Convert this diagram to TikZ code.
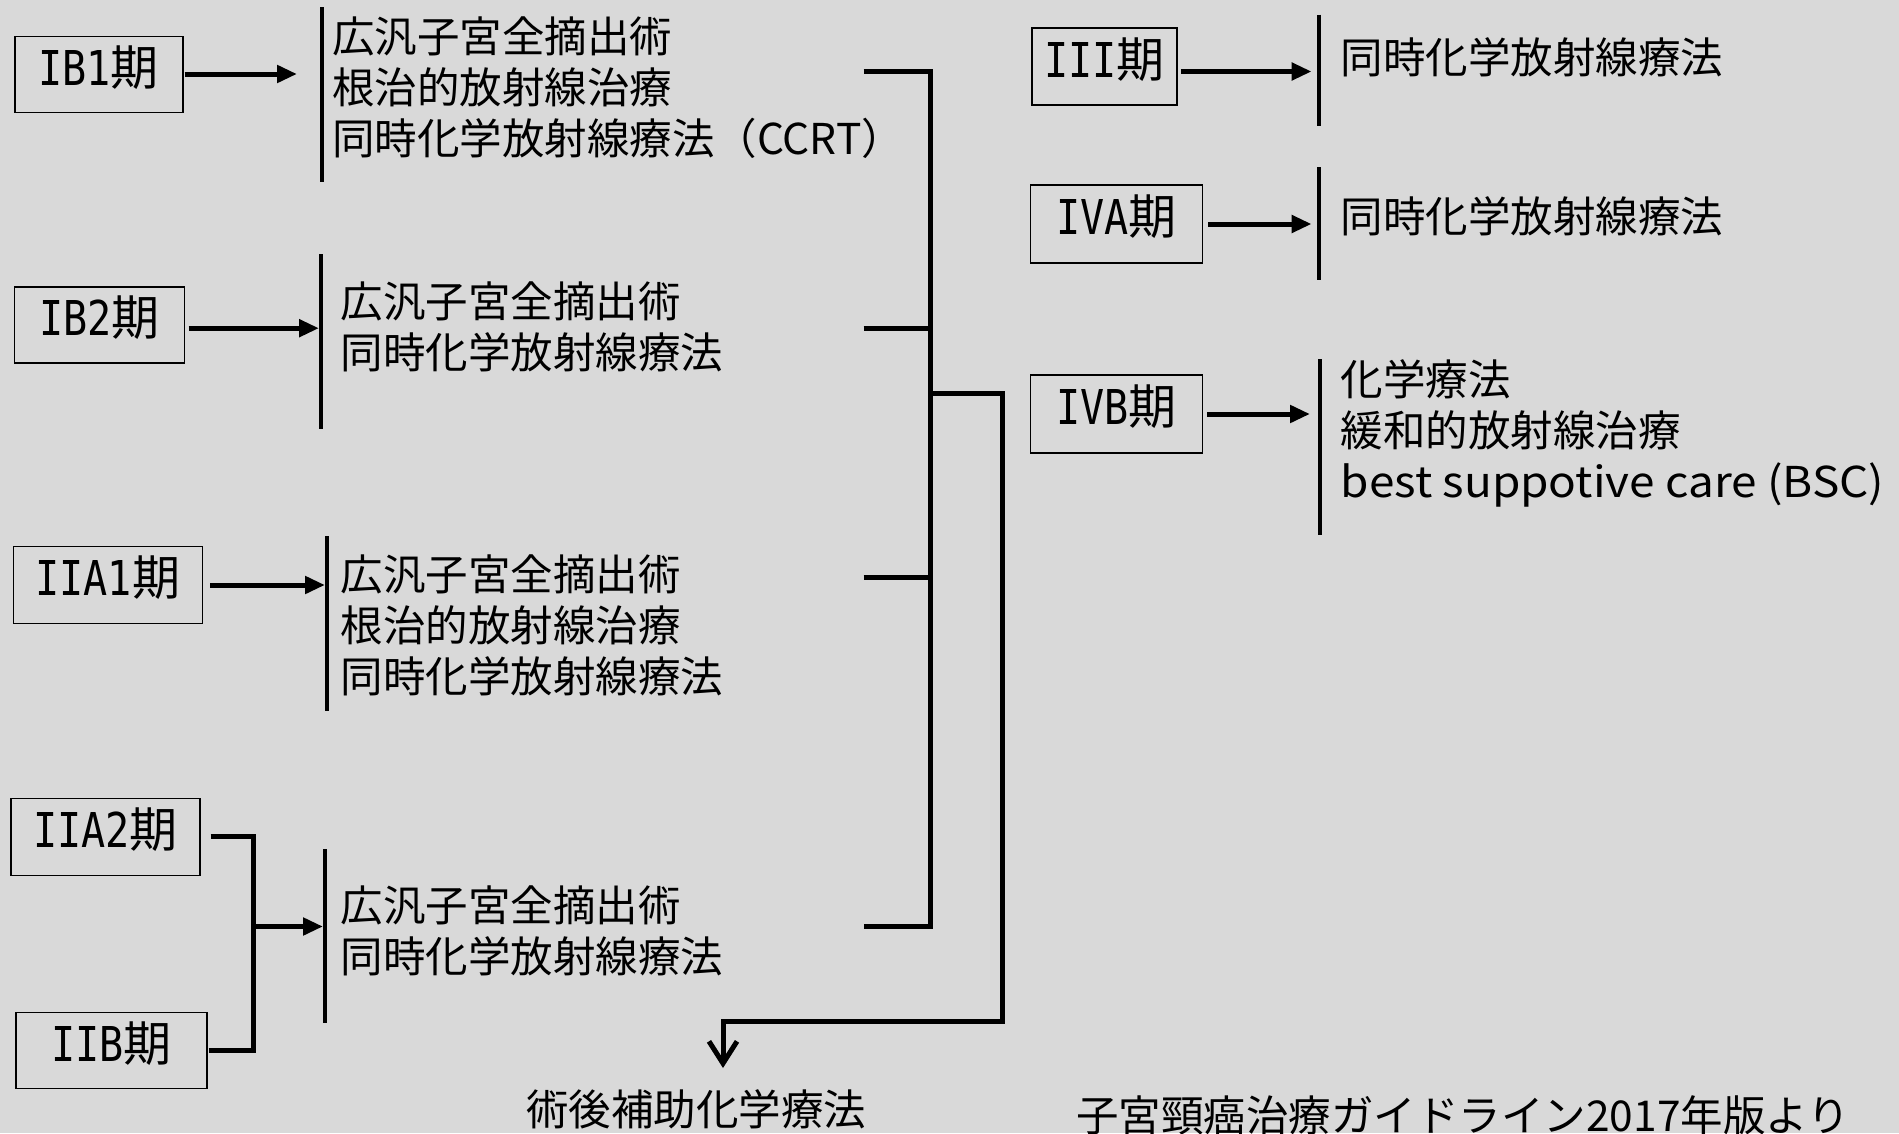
\documentclass[tikz,border=0pt]{standalone}
\usepackage{fontspec}
\setmainfont{Noto Sans CJK JP}
\newfontfamily\latmono[FakeStretch=0.835]{DejaVu Sans Mono}
\usetikzlibrary{arrows.meta}
\definecolor{bg}{HTML}{D9D9D9}
\newcommand\stg[1]{{\latmono #1}期}
\begin{document}
\begin{tikzpicture}[x=1pt,y=-1pt,
  stage/.style={draw=black, line width=1.6pt, inner sep=0pt, text height=21pt, text depth=0pt, font=\fontsize{48}{51}\selectfont},
  txt/.style={anchor=west, align=left, inner sep=0pt, font=\fontsize{42.5}{51}\selectfont},
  ctxt/.style={anchor=center, inner sep=0pt, font=\fontsize{42.5}{51}\selectfont},
  arr/.style={line width=5pt, -{Triangle[length=20pt,width=17pt]}},
  conn/.style={line width=5pt},
  bar/.style={line width=4.5pt},
]
\fill[bg] (0,0) rectangle (1899,1133);
\useasboundingbox (0,0) rectangle (1899,1133);
\clip (0,0) rectangle (1899,1133);

% ---------- left stages ----------
\node[stage, minimum width=168pt, minimum height=76pt] (ib1) at (98.7,74.5) {\stg{IB1}};
\node[stage, minimum width=170pt, minimum height=76pt] (ib2) at (99.3,325.2) {\stg{IB2}};
\node[stage, minimum width=189pt, minimum height=77pt] (iia1) at (107.8,585) {\stg{IIA1}};
\node[stage, minimum width=189pt, minimum height=77pt] (iia2) at (105.4,836.9) {\stg{IIA2}};
\node[stage, minimum width=191pt, minimum height=76pt] (iib) at (111.4,1050.6) {\stg{IIB}};

% bars
\coordinate (b1t) at (322,7);     \coordinate (b1b) at (322,182);
\coordinate (b2t) at (321,254);   \coordinate (b2b) at (321,429);
\coordinate (b3t) at (327,536);   \coordinate (b3b) at (327,711);
\coordinate (b4t) at (325,849);   \coordinate (b4b) at (325,1023);
\draw[bar] (b1t) -- (b1b);
\draw[bar] (b2t) -- (b2b);
\draw[bar] (b3t) -- (b3b);
\draw[bar] (b4t) -- (b4b);

% treatments
\node[txt] (t1) at (331.8,87.2) {広汎子宮全摘出術\\根治的放射線治療\\同時化学放射線療法（CCRT）};
\node[txt] (t2) at (340.3,327) {広汎子宮全摘出術\\同時化学放射線療法};
\node[txt] (t3) at (340.3,624.9) {広汎子宮全摘出術\\根治的放射線治療\\同時化学放射線療法};
\node[txt] (t4) at (340.3,931.3) {広汎子宮全摘出術\\同時化学放射線療法};

% arrows to bars
\coordinate (a1) at (297,74);
\coordinate (a2) at (319,328.2);
\coordinate (a3) at (325,585);
\coordinate (jn) at (253,926.5);
\coordinate (a4) at (323,926.5);
\draw[arr, shorten <=1pt] (ib1.east |- a1) -- (a1);
\draw[arr, shorten <=3.5pt] (ib2.east |- a2) -- (a2);
\draw[arr, shorten <=7pt] (iia1.east |- a3) -- (a3);
\draw[conn, shorten <=10pt] (iia2.east) -| (jn);
\draw[conn, shorten <=1pt] (iib.east) -| (jn);
\draw[arr] (jn) -- (a4);

% collector
\coordinate (s1) at (863.5,71.5);
\coordinate (s2) at (863.5,328.2);
\coordinate (s3) at (863.5,577.7);
\coordinate (s4) at (863.5,926.5);
\coordinate (c1) at (930,71.5);
\coordinate (c4) at (930,926.5);
\coordinate (cb) at (930,393.6);
\coordinate (r1) at (1002.8,1021);
\coordinate (dn) at (723,1068);
\draw[conn] (s1) -- (c1) -- (c4) -- (s4);
\draw[conn] (s2) -- (s2 -| c1);
\draw[conn] (s3) -- (s3 -| c1);
\draw[conn, -{Straight Barb[length=22pt,width=28pt]}] (cb) -| (r1) -| (dn);

\node[ctxt] (post) at (696.4,1109.4) {術後補助化学療法};
\node[ctxt] (cite) at (1463,1115.4) {子宮頸癌治療ガイドライン2017年版より};

% ---------- right stages ----------
\node[stage, minimum width=145pt, minimum height=77pt] (iii) at (1104.5,66.6) {\stg{III}};
\node[stage, minimum width=172pt, minimum height=78pt] (iva) at (1116.6,224) {\stg{IVA}};
\node[stage, minimum width=172pt, minimum height=78pt] (ivb) at (1116.6,414.2) {\stg{IVB}};

\coordinate (b5t) at (1319,14.5);  \coordinate (b5b) at (1319,126);
\coordinate (b6t) at (1319,167);   \coordinate (b6b) at (1319,280);
\coordinate (b7t) at (1320,359);   \coordinate (b7b) at (1320,535);
\draw[bar] (b5t) -- (b5b);
\draw[bar] (b6t) -- (b6b);
\draw[bar] (b7t) -- (b7b);

\coordinate (a5) at (1311.6,71.5);
\coordinate (a6) at (1311.6,224);
\coordinate (a7) at (1310,414);
\draw[arr, shorten <=3pt] (iii.east |- a5) -- (a5);
\draw[arr, shorten <=5pt] (iva.east |- a6) -- (a6);
\draw[arr, shorten <=4pt] (ivb.east |- a7) -- (a7);

\node[txt] (t5) at (1340.7,57) {同時化学放射線療法};
\node[txt] (t6) at (1340.7,216) {同時化学放射線療法};
\node[txt] (t7) at (1340.7,433) {化学療法\\緩和的放射線治療\\{\addfontfeature{FakeStretch=1.08}best suppotive care (BSC)}};
\end{tikzpicture}
\end{document}
